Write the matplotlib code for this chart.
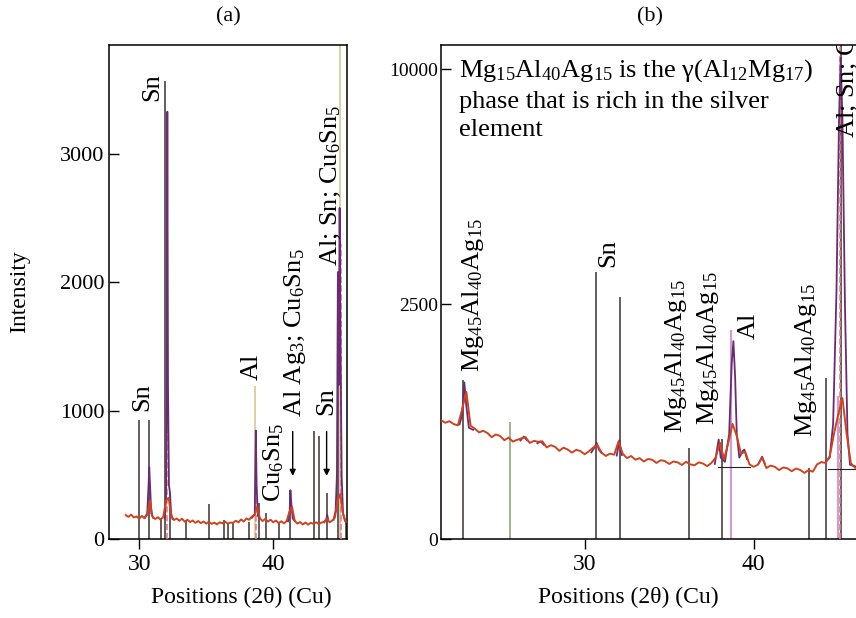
import numpy as np
import matplotlib
matplotlib.use("Agg")
import matplotlib.pyplot as plt

plt.rcParams['font.family'] = ['Liberation Serif', 'DejaVu Serif']
plt.rcParams['mathtext.fontset'] = 'custom'
plt.rcParams['mathtext.rm'] = 'Liberation Serif'
plt.rcParams['mathtext.it'] = 'Liberation Serif:italic'

# ---------------- panel (a) data ----------------
# measured pattern, 0.2 deg steps from 29.0
obs_a_start, obs_a_step = 29.0, 0.2
obs_a = [186, 172, 190, 168, 176, 158, 180, 162, 188, 300,
         172, 156, 170, 150, 174, 300, 320, 176, 148, 160,
         142, 158, 135, 150, 132, 144, 126, 140, 124, 136,
         120, 134, 118, 128, 114, 130, 122, 136, 120, 128,
         126, 142, 130, 152, 136, 160, 150, 174, 190, 250,
         162, 140, 156, 136, 150, 130, 144, 124, 138, 122,
         140, 210, 250, 142, 120, 132, 114, 128, 112, 126,
         118, 130, 116, 128, 134, 160, 130, 144, 168, 300,
         350, 200, 135]

# fitted profile, one segment per peak (None = gap)
fit_a_x = [30.4, 30.6, 30.7, 30.75, 30.82, 30.9, 31.05, None,
           31.9, 32.0, 32.06, 32.1, 32.15, 32.22, 32.3, 32.38, 32.5, None,
           38.4, 38.62, 38.7, 38.76, 38.85, 39.0, None,
           41.1, 41.22, 41.28, 41.33, 41.45, 41.6, None,
           43.8, 43.95, 44.02, 44.1, None,
           44.5, 44.65, 44.75, 44.82, 44.88, 44.95, 45.02, 45.1, 45.2, 45.35, 45.5]
fit_a_y = [165, 200, 420, 560, 400, 200, 165, None,
           160, 320, 1200, 3330, 1200, 420, 360, 200, 155, None,
           165, 190, 845, 420, 180, 160, None,
           138, 200, 380, 300, 160, 140, None,
           130, 150, 190, 150, None,
           150, 220, 500, 2080, 1200, 2580, 1500, 500, 200, 140, 130]

sticks_a_x = [30.02, 30.7, 31.6, 31.96, 32.3, 33.5, 35.2, 36.3, 36.65, 37.0,
              38.2, 38.97, 39.48, 40.45, 41.27, 43.06, 43.43, 44.0, 44.82, 44.95,
              45.45]
sticks_a_h = [930, 930, 160, 3570, 360, 150, 270, 148, 127, 127,
              130, 280, 200, 130, 380, 840, 800, 360, 2080, 2590,
              130]
light_a_x = [38.63, 45.0]
light_a_h = [1190, 4000]
dash_a_x = [32.05, 38.75, 45.05]
dash_a_h = [1810, 850, 2300]

labels_a = ['Sn', 'Sn', 'Al', r'Cu$_6$Sn$_5$', r'Al Ag$_3$; Cu$_6$Sn$_5$', 'Sn',
            r'Al; Sn; Cu$_6$Sn$_5$']
labels_a_x = [30.2, 30.99, 38.4, 40.0, 41.6, 43.95, 44.3]
labels_a_y = [1000, 3410, 1240, 290, 950, 970, 2125]
arrows_a_x = [41.45, 43.98]

# ---------------- panel (b) data ----------------
obs_b_start, obs_b_step = 21.5, 0.25
obs_b = [640, 612, 628, 598, 585, 760, 980, 580, 552, 515,
         530, 508, 470, 495, 480, 442, 466, 430, 445, 458,
         470, 418, 436, 428, 432, 380, 398, 385, 352, 378,
         362, 338, 360, 350, 325, 348, 378, 400, 338, 312,
         330, 322, 430, 330, 296, 312, 285, 296, 272, 290,
         284, 262, 281, 275, 255, 272, 266, 248, 270, 252,
         246, 266, 258, 240, 262, 300, 420, 290, 420, 600,
         480, 330, 345, 252, 236, 250, 300, 228, 244, 236,
         215, 232, 226, 208, 225, 216, 198, 215, 205, 252,
         268, 262, 310, 500, 700, 900, 500, 260, 230]

fit_b_x = [22.6, 22.75, 22.88, 23.0, 23.15, 23.4, None,
           26.2, 26.4, 26.6, None, 27.2, 27.4, 27.6, None,
           30.4, 30.6, 30.7, 30.85, 31.0, None, 31.9, 32.05, 32.2, None,
           37.7, 37.85, 37.93, 38.05, 38.3, 38.55, 38.7, 38.8,
           38.9, 39.0, 39.15, 39.35, 39.45, 39.6, None, 40.3, 40.5, 40.65, None,
           44.3, 44.5, 44.7, 44.9, 45.05, 45.15, 45.25, 45.4, 45.55, 45.7, 46.1]
fit_b_y = [595, 700, 1110, 800, 560, 540, None,
           440, 475, 440, None, 415, 430, 400, None,
           340, 385, 420, 360, 335, None, 315, 440, 320, None,
           255, 380, 448, 300, 270, 500, 1400, 1772,
           1200, 500, 300, 350, 362, 290, None, 260, 307, 260, None,
           275, 300, 600, 2800, 8000, 10500, 8000, 2500, 500, 250, 235]
bg_b_x = [[37.9, 39.8], [44.4, 46.1]]
bg_b_y = [[237, 237], [224, 224]]

sticks_b_x = [22.78, 30.7, 32.07, 36.15, 38.15, 43.25, 44.26, 45.15]
sticks_b_h = [1150, 3240, 2650, 378, 450, 230, 1170, 12000]
green_b_x, green_b_h = 25.56, 625
lilac_b_x = [38.64, 44.97]
lilac_b_h = [1975, 920]
dash_b_x, dash_b_h = 45.08, 12000

mg = r'Mg$_{45}$Al$_{40}$Ag$_{15}$'
labels_b = [mg, 'Sn', mg, mg, 'Al', mg, r'Al; Sn; Cu$_6$Sn$_5$']
labels_b_x = [23.4, 31.4, 35.4, 37.3, 39.7, 43.1, 45.6]
labels_b_y = [1258, 3353, 513, 593, 1808, 475, 7270]
note_b = ('Mg$_{15}$Al$_{40}$Ag$_{15}$ is the \u03b3(Al$_{12}$Mg$_{17}$)\n'
          'phase that is rich in the silver\nelement')

# colours
c_stick = '#4d4141'
c_obs = '#cc4420'
c_fit = '#6a2c70'
c_light = '#d9d0a8'
c_dash = '#e0808a'
c_lilac = '#c9a0cf'
c_green = '#a3b18e'


def seg(v):
    return np.array([np.nan if e is None else e for e in v], dtype=float)


fig = plt.figure(figsize=(8.56, 6.18), dpi=100)
ax_a = fig.add_axes([109 / 856, 79 / 618, 238 / 856, 494 / 618])
ax_b = fig.add_axes([441 / 856, 79 / 618, 420 / 856, 494 / 618])

# ---- panel (a)
xa = obs_a_start + obs_a_step * np.arange(len(obs_a))
ax_a.vlines(sticks_a_x, 0, sticks_a_h, color=c_stick, lw=1.2, zorder=2)
ax_a.vlines(light_a_x, 0, light_a_h, color=c_light, lw=1.4, zorder=2)
ax_a.vlines(dash_a_x, 0, dash_a_h, color=c_dash, lw=1.2, linestyles='dashed', zorder=3)
ax_a.plot(seg(fit_a_x), seg(fit_a_y), color=c_fit, lw=1.3, zorder=3)
ax_a.plot(xa, obs_a, color=c_obs, lw=1.4, zorder=4)
for s, x, y in zip(labels_a, labels_a_x, labels_a_y):
    ax_a.text(x, y, s, rotation=90, ha='center', va='bottom', fontsize=19)
for x in arrows_a_x:
    ax_a.annotate('', xy=(x, 470), xytext=(x, 860),
                  arrowprops=dict(arrowstyle='-|>', color='black', lw=1.0, mutation_scale=9))
ax_a.set_xlim(27.75, 45.5)
ax_a.set_ylim(0, 3850)
ax_a.set_xticks([30, 40])
ax_a.set_yticks([0, 1000, 2000, 3000])

# ---- panel (b), square-root intensity axis
xb = obs_b_start + obs_b_step * np.arange(len(obs_b))
ax_b.set_yscale('function', functions=(lambda v: np.sqrt(np.clip(v, 0, None)),
                                        lambda v: np.square(v)))
ax_b.vlines(sticks_b_x, 0, sticks_b_h, color=c_stick, lw=1.2, zorder=2)
ax_b.vlines([green_b_x], 0, [green_b_h], color=c_green, lw=1.4, zorder=2)
ax_b.vlines(lilac_b_x, 0, lilac_b_h, color=c_lilac, lw=1.6, zorder=2)
ax_b.vlines([dash_b_x], 0, [dash_b_h], color=c_dash, lw=1.2, linestyles='dashed', zorder=3)
for bx, by in zip(bg_b_x, bg_b_y):
    ax_b.plot(bx, by, color='#222222', lw=0.8, zorder=3)
ax_b.plot(seg(fit_b_x), seg(fit_b_y), color=c_fit, lw=1.3, zorder=3)
ax_b.plot(xb, obs_b, color=c_obs, lw=1.4, zorder=4)
for s, x, y in zip(labels_b, labels_b_x, labels_b_y):
    ax_b.text(x, y, s, rotation=90, ha='center', va='bottom', fontsize=19, clip_on=True)
ax_b.text(0.043, 0.975, note_b, transform=ax_b.transAxes, ha='left', va='top',
          fontsize=19, linespacing=1.38)
ax_b.set_xlim(21.5, 46.35)
ax_b.set_ylim(0, 11050)
ax_b.set_xticks([30, 40])
ax_b.set_yticks([0, 2500, 10000])
ax_b.spines['right'].set_visible(False)

for ax in (ax_a, ax_b):
    ax.tick_params(axis='y', direction='in', length=7, width=1, labelsize=16)
    ax.tick_params(axis='x', direction='out', length=7, width=1, labelsize=17)
    for sp in ax.spines.values():
        sp.set_linewidth(1.1)
ax_b.tick_params(axis='y', labelsize=14, pad=2)

fig.text(228 / 856, 1 - 17 / 618, '(a)', ha='center', va='center', fontsize=16)
fig.text(650 / 856, 1 - 17 / 618, '(b)', ha='center', va='center', fontsize=16)
fig.text(241 / 856, 1 - 597 / 618, 'Positions (2\u03b8) (Cu)', ha='center', va='center', fontsize=17)
fig.text(628 / 856, 1 - 597 / 618, 'Positions (2\u03b8) (Cu)', ha='center', va='center', fontsize=17)
fig.text(20 / 856, 1 - 292 / 618, 'Intensity', ha='center', va='center', rotation=90, fontsize=17)

fig.savefig('out.png', dpi=100)
